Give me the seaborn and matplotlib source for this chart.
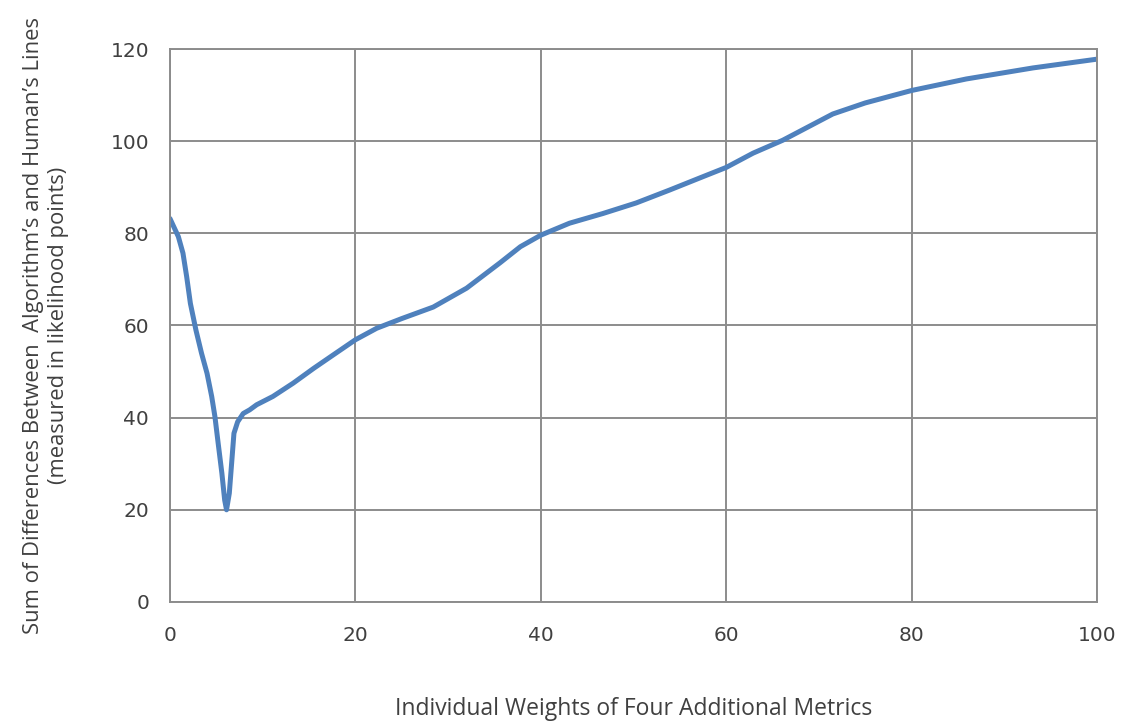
import matplotlib
matplotlib.use("Agg")
import matplotlib.pyplot as plt
import seaborn as sns
import pandas as pd

# values
weights = [0, 0.9, 1.4, 1.8, 2.2, 2.8, 3.4, 4.0, 4.5, 4.85, 5.2, 5.6, 5.9, 6.1,
           6.4, 6.65, 6.9, 7.3, 7.9, 8.6, 9.35, 11.1, 13.3, 15.5, 17.6, 20,
           22.3, 25, 28.4, 32, 35.6, 37.8, 40, 43.1, 46.7, 50.3, 53.9, 57.5,
           60, 62.9, 66.1, 71.5, 75, 80, 85.9, 93.1, 100]
differences = [83.2, 79.3, 75.7, 70.6, 64.8, 59.0, 54.0, 49.6, 44.6, 40.2, 34.4,
               27.9, 22.1, 20.0, 23.6, 30.1, 36.6, 39.1, 40.9, 41.7, 42.8, 44.6,
               47.5, 50.7, 53.6, 56.9, 59.4, 61.5, 64.0, 68.1, 73.6, 77.1, 79.6,
               82.2, 84.3, 86.6, 89.4, 92.3, 94.3, 97.4, 100.2, 105.9, 108.3,
               111.0, 113.5, 115.9, 117.8]
x_ticks = [0, 20, 40, 60, 80, 100]
y_ticks = [0, 20, 40, 60, 80, 100, 120]

df = pd.DataFrame({"weight": weights, "diff": differences})

sns.set_style("white")
grid_col = "#8c8c8c"
text_col = "#404040"

fig = plt.figure(figsize=(11.22, 7.23), dpi=100)
ax = fig.add_axes([0.1515, 0.1674, 0.8262, 0.7648])

sns.lineplot(data=df, x="weight", y="diff", ax=ax, color="#4F81BD",
             linewidth=3.6, solid_joinstyle="round", solid_capstyle="round")

ax.set_xlim(0, 100)
ax.set_ylim(0, 120)
ax.set_xticks(x_ticks)
ax.set_yticks(y_ticks)
ax.grid(True, color=grid_col, linewidth=1.4)
ax.set_axisbelow(True)
for sp in ax.spines.values():
    sp.set_color(grid_col)
    sp.set_linewidth(1.4)
ax.tick_params(axis="both", direction="out", length=6, width=1.4,
               color=grid_col, labelcolor=text_col, labelsize=14.5)
ax.tick_params(axis="x", pad=11)
ax.tick_params(axis="y", pad=9)
for lbl in ax.get_xticklabels() + ax.get_yticklabels():
    lbl.set_family("DejaVu Sans")

ax.set_xlabel("Individual Weights of Four Additional Metrics",
              fontsize=16.5, color=text_col, labelpad=38, family="Open Sans")
ax.set_ylabel("Sum of Differences Between  Algorithm\u2019s and Human\u2019s Lines\n"
              "(measured in likelihood points)",
              fontsize=15.8, color=text_col, labelpad=30, family="Open Sans",
              linespacing=1.25)

fig.savefig("out.png", dpi=100)
